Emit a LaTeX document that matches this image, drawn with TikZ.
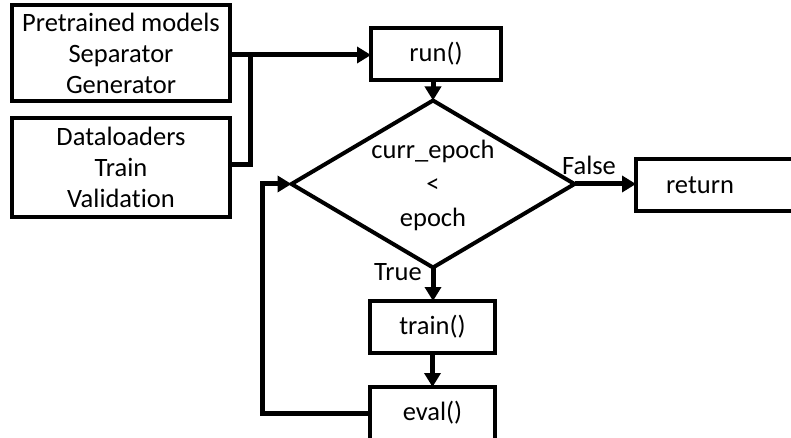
\documentclass[tikz,border=0pt]{standalone}
\usepackage{fontspec}
\setmainfont[Ligatures=NoCommon]{Carlito}
\usetikzlibrary{arrows.meta,shapes.geometric}
\begin{document}
\begin{tikzpicture}[x=1pt,y=-1pt,
  font=\fontsize{26.5}{31}\selectfont,
  box/.style={draw,line width=4pt,inner sep=0pt,outer sep=0pt,align=center},
  flow/.style={line width=5pt,-{Triangle[length=14pt,width=16pt]}},
  plain/.style={line width=5pt}]
  \useasboundingbox (0,0) rectangle (791,438);
  % inputs
  \node[box,minimum width=218pt,minimum height=96pt] (models) at (121,53)
    {Pretrained models\\Separator\\Generator};
  \node[box,minimum width=218pt,minimum height=99pt] (loaders) at (121,167.5)
    {Dataloaders\\Train\\Validation};
  % main loop
  \node[box,minimum width=130pt,minimum height=52pt] (run) at (436,54) {run()};
  \node[draw,diamond,line width=4pt,minimum width=283pt,minimum height=167pt,
        inner sep=0pt,outer sep=0pt] (cond) at (433,184) {};
  \node[align=center,font=\fontsize{26.5}{34}\selectfont] (condtext) at (433,185)
    {curr\_epoch\\<\\epoch};
  % the return box runs past the right edge of the page
  \node[inner sep=0pt,outer sep=0pt,minimum width=240pt,minimum height=52pt] (ret) at (756,185) {};
  \draw[line width=4pt] (ret.north east) -- (ret.north west) -- (ret.south west) -- (ret.south east);
  \node (rettext) at (700,185) {return};
  \node[box,minimum width=125pt,minimum height=52pt] (train) at (432.5,327) {train()};
  \node[box,minimum width=125pt,minimum height=54pt] (eval) at (432.5,414) {};
  \node (evaltext) at (432.5,413) {eval()};
  % connectors
  \coordinate (join) at (250,55);
  \draw[plain] (loaders.east |- 0,165) -| (join);
  \draw[flow] (models.east |- join) -- (run.west |- join);
  \draw[flow] (run.south -| cond.north) -- (cond.north);
  \draw[flow] (cond.east) -- (ret.west |- cond.east);
  \draw[flow] (cond.south) -- (train.north -| cond.south);
  \draw[flow] (train.south) -- (eval.north);
  \coordinate (back) at (262,413);
  \draw[flow] (eval.west |- back) -- (back) |- (cond.west);
  % branch labels
  \node (false) at (589,165) {False};
  \node (true) at (398,272) {True};
\end{tikzpicture}
\end{document}
